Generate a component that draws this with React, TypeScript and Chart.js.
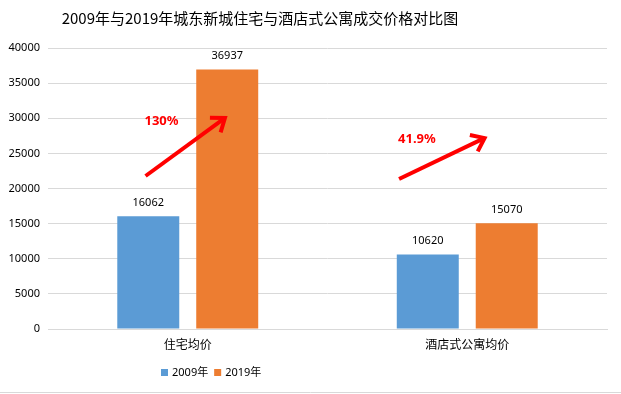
import React, { useEffect, useRef } from "react";
import { Chart, registerables } from "chart.js";

Chart.register(...registerables);

const titleText = "2009年与2019年城东新城住宅与酒店式公寓成交价格对比图";
const categories = ["住宅均价", "酒店式公寓均价"];
const series2009 = [16062, 10620];
const series2019 = [36937, 15070];
const seriesNames = ["2009年", "2019年"];
const seriesColors = ["#5b9bd5", "#ed7d31"];
const yTicks = { min: 0, max: 40000, step: 5000 };
// annotations: [category offset (index units), value] start & end, label position
const arrowStarts = [[-0.151, 21780], [-0.244, 21350]];
const arrowEnds = [[0.133, 30030], [0.062, 27180]];
const growthLabels = ["130%", "41.9%"];
const growthLabelPos = [[-0.094, 29600], [-0.18, 27040]];

const SANS = "'Noto Sans', 'Noto Sans CJK SC', sans-serif";
const CJK = "'Noto Sans CJK SC', sans-serif";

const dataLabelPlugin = {
  id: "dataLabels",
  afterDatasetsDraw(chart: any) {
    const ctx = chart.ctx;
    ctx.save();
    ctx.font = `11px ${SANS}`;
    ctx.fillStyle = "#000";
    ctx.textAlign = "center";
    ctx.textBaseline = "bottom";
    chart.data.datasets.forEach((ds: any, i: number) => {
      const meta = chart.getDatasetMeta(i);
      meta.data.forEach((bar: any, j: number) => {
        ctx.fillText(String(ds.data[j]), bar.x, bar.y - 8);
      });
    });
    ctx.restore();
  },
};

const arrowPlugin = {
  id: "arrows",
  afterDatasetsDraw(chart: any) {
    const ctx = chart.ctx;
    const xs = chart.scales.x;
    const ys = chart.scales.y;
    const px = (c: number, off: number) => xs.getPixelForValue(c) + off * (xs.width / categories.length);
    ctx.save();
    arrowStarts.forEach((s, i) => {
      const e = arrowEnds[i];
      const x1 = px(i, s[0]);
      const y1 = ys.getPixelForValue(s[1]);
      const x2 = px(i, e[0]);
      const y2 = ys.getPixelForValue(e[1]);
      const ang = Math.atan2(y2 - y1, x2 - x1);
      ctx.strokeStyle = "#ff0000";
      ctx.lineWidth = 4;
      ctx.lineCap = "butt";
      ctx.lineJoin = "miter";
      ctx.beginPath();
      ctx.moveTo(x1, y1);
      ctx.lineTo(x2 - 2 * Math.cos(ang), y2 - 2 * Math.sin(ang));
      ctx.stroke();
      const L = 15;
      const spread = 0.65;
      ctx.beginPath();
      ctx.moveTo(x2 - L * Math.cos(ang - spread), y2 - L * Math.sin(ang - spread));
      ctx.lineTo(x2, y2);
      ctx.lineTo(x2 - L * Math.cos(ang + spread), y2 - L * Math.sin(ang + spread));
      ctx.stroke();
      const lp = growthLabelPos[i];
      ctx.font = `bold 13px ${SANS}`;
      ctx.fillStyle = "#ff0000";
      ctx.textAlign = "center";
      ctx.textBaseline = "middle";
      ctx.fillText(growthLabels[i], px(i, lp[0]), ys.getPixelForValue(lp[1]));
    });
    ctx.restore();
  },
};

const frameTitleLegendPlugin = {
  id: "frameTitleLegend",
  afterDraw(chart: any) {
    const ctx = chart.ctx;
    ctx.save();
    // title
    ctx.font = `15px ${CJK}`;
    ctx.fillStyle = "#000";
    ctx.textAlign = "center";
    ctx.textBaseline = "middle";
    ctx.fillText(titleText, 260, 18);
    // legend
    ctx.font = `11px ${SANS}`;
    ctx.textAlign = "left";
    let x = 161;
    const y = 373;
    seriesNames.forEach((name, i) => {
      ctx.fillStyle = seriesColors[i];
      ctx.fillRect(x, y - 4, 7, 7);
      ctx.fillStyle = "#000";
      ctx.fillText(name, x + 11, y);
      x += 11 + ctx.measureText(name).width + 6;
    });
    // bottom frame line
    ctx.strokeStyle = "#d9d9d9";
    ctx.lineWidth = 1;
    ctx.beginPath();
    ctx.moveTo(0, 392.5);
    ctx.lineTo(621, 392.5);
    ctx.stroke();
    ctx.restore();
  },
};

export default function App() {
  const ref = useRef<HTMLCanvasElement>(null);
  useEffect(() => {
    document.body.style.margin = "0";
    const chart = new Chart(ref.current as HTMLCanvasElement, {
      type: "bar",
      data: {
        labels: categories,
        datasets: [
          { label: seriesNames[0], data: series2009, backgroundColor: seriesColors[0], categoryPercentage: 0.565, barPercentage: 0.785 },
          { label: seriesNames[1], data: series2019, backgroundColor: seriesColors[1], categoryPercentage: 0.565, barPercentage: 0.785 },
        ],
      },
      options: {
        responsive: false,
        animation: false,
        layout: { padding: { left: 0, right: 14, top: 48, bottom: 35 } },
        plugins: {
          title: { display: false },
          legend: { display: false },
          tooltip: { enabled: false },
        },
        scales: {
          x: {
            grid: { display: false },
            border: { color: "#d9d9d9" },
            ticks: { color: "#000", font: { size: 12, family: CJK }, padding: 0 },
            afterFit: (s: any) => { s.height = 30; },
          },
          y: {
            min: yTicks.min,
            max: yTicks.max,
            ticks: {
              stepSize: yTicks.step,
              color: "#000",
              font: { size: 11, family: SANS },
              padding: 8,
              callback: (v: any) => String(v),
            },
            grid: { color: "#d9d9d9", drawTicks: false },
            border: { display: false },
            afterFit: (s: any) => { s.width = 48; },
          },
        },
      },
      plugins: [dataLabelPlugin, arrowPlugin, frameTitleLegendPlugin],
    } as any);
    return () => chart.destroy();
  }, []);
  return <canvas ref={ref} width={621} height={394} />;
}
